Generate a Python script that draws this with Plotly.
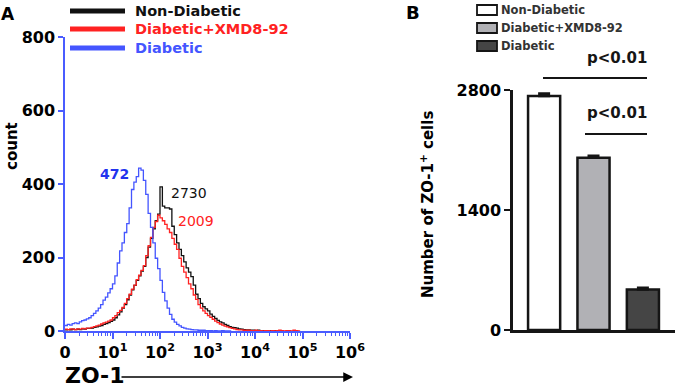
import numpy as np
import plotly.graph_objects as go

W, H = 678, 390

# ---------------- data ----------------
bin_step = 0.05  # histogram bin width in decades (biexponential display units)
tick_positions = [0, 1, 2, 3, 4, 5, 6]
tick_labels = ["0"] + ["10<sup>%d</sup>" % d for d in range(1, 7)]

blue_counts = [15, 18, 16, 20, 22, 20, 25, 28, 30, 33, 36, 42, 48, 55, 62, 72, 84, 92, 104, 115,
               128, 150, 185, 218, 240, 268, 292, 335, 385, 405, 420, 443, 438, 410, 372, 320, 282,
               240, 198, 170, 138, 105, 82, 62, 45, 32, 24, 18, 14, 10, 8, 6, 5, 4, 3, 3, 2, 2, 2,
               1, 1, 1, 0, 1, 0, 0, 1, 0, 0, 0, 0]
red_counts = [5, 4, 6, 5, 4, 6, 5, 7, 6, 8, 8, 10, 12, 14, 16, 19, 22, 24, 27, 30,
              36, 42, 50, 56, 64, 75, 88, 100, 114, 125, 140, 152, 165, 178, 205, 232, 255, 282,
              298, 315, 308, 300, 290, 278, 268, 252, 236, 222, 198, 176, 160, 145, 128, 115, 98,
              86, 72, 62, 55, 48, 42, 37, 32, 27, 23, 19, 16, 13, 11, 9, 7, 6, 4, 3, 3, 2, 2,
              2, 1, 1, 2, 1, 1, 0, 1, 1, 0, 1, 0, 1, 2, 1, 0, 1, 1, 0, 2, 1, 0, 0]
black_counts = [3, 4, 3, 5, 4, 5, 4, 6, 5, 7, 7, 8, 10, 11, 13, 15, 18, 20, 23, 26,
                30, 36, 44, 52, 62, 72, 85, 98, 112, 124, 138, 150, 163, 176, 200, 228, 252, 278,
                300, 318, 392, 340, 335, 335, 332, 285, 262, 240, 222, 205, 188, 172, 160, 148,
                125, 100, 88, 75, 66, 60, 55, 46, 40, 34, 29, 25, 22, 18, 15, 12, 10, 9, 8, 6, 5,
                4, 3, 3, 2, 2, 1, 2, 1, 1, 0, 1, 1, 0, 1, 0, 0]

groups = ["Non-Diabetic", "Diabetic+XMD8-92", "Diabetic"]
mfi_values = [2730, 2009, 472]
mfi_errors = [30, 25, 22]
bar_colors = ["#ffffff", "#b1b1b5", "#454545"]
line_colors = {"Non-Diabetic": "#111111", "Diabetic+XMD8-92": "#ff2222", "Diabetic": "#4455ff"}

# ---------------- figure ----------------
def px_x(p):
    return p / W

def px_y(p):
    return 1 - p / H

FONT = "DejaVu Sans, Liberation Sans, Arial, sans-serif"
fig = go.Figure()

for name, counts in [("Non-Diabetic", black_counts), ("Diabetic+XMD8-92", red_counts),
                     ("Diabetic", blue_counts)]:
    xs = [i * bin_step for i in range(len(counts))]
    fig.add_trace(go.Scatter(x=xs, y=counts, mode="lines", line_shape="hv",
                             line=dict(color=line_colors[name], width=1.3),
                             showlegend=False, xaxis="x", yaxis="y", cliponaxis=False))

fig.add_trace(go.Bar(x=[0, 1, 2], y=mfi_values, width=0.65,
                     marker=dict(color=bar_colors, line=dict(color="#151515", width=2.5)),
                     error_y=dict(type="data", array=mfi_errors, arrayminus=[0, 0, 0],
                                  symmetric=False, color="#151515", thickness=2.5, width=6),
                     showlegend=False, xaxis="x2", yaxis="y2"))

minor_vals = [d + np.log10(k) for d in range(0, 6) for k in range(2, 10)]
axis_blue = "#4a5cff"

fig.update_layout(
    width=W, height=H, margin=dict(l=0, r=0, t=0, b=0, autoexpand=False),
    paper_bgcolor="white", plot_bgcolor="white",
    font=dict(family=FONT, color="black"),
    xaxis=dict(domain=[px_x(65), px_x(350)], range=[0, 6], anchor="y",
               tickmode="array", tickvals=tick_positions, ticktext=tick_labels,
               tickfont=dict(size=16, weight="bold", color="black"),
               showline=True, linecolor=axis_blue, linewidth=1.5,
               ticks="outside", tickcolor=axis_blue, ticklen=6, tickwidth=1.5,
               minor=dict(tickmode="array", tickvals=minor_vals, ticks="outside",
                          ticklen=3, tickcolor=axis_blue, tickwidth=1),
               showgrid=False, zeroline=False, automargin=False),
    yaxis=dict(domain=[px_y(331), px_y(37)], range=[0, 800], anchor="x",
               tickvals=[0, 200, 400, 600, 800],
               tickfont=dict(size=16, weight="bold", color="black"),
               showline=True, linecolor=axis_blue, linewidth=1.5,
               ticks="outside", tickcolor=axis_blue, ticklen=5, tickwidth=1.5,
               showgrid=False, zeroline=False, automargin=False),
    xaxis2=dict(domain=[px_x(513), px_x(675)], range=[-0.63, 2.65], anchor="y2",
                showticklabels=False, ticks="", showline=True, linecolor="#151515",
                linewidth=2.5, showgrid=False, zeroline=False, automargin=False),
    yaxis2=dict(domain=[px_y(330), px_y(90)], range=[0, 2800], anchor="x2",
                tickvals=[0, 1400, 2800],
                tickfont=dict(size=16, weight="bold", color="black"),
                showline=True, linecolor="#151515", linewidth=2.5,
                ticks="outside", tickcolor="#151515", ticklen=6, tickwidth=2,
                showgrid=False, zeroline=False, automargin=False),
)

ann = []
shapes = []

def text_at(txt, x, y, size, color="black", xanchor="center", angle=0):
    ann.append(dict(text=txt, x=px_x(x), y=px_y(y), xref="paper", yref="paper",
                    xanchor=xanchor, yanchor="middle", showarrow=False, textangle=angle,
                    font=dict(size=size, color=color)))

# Panel labels
text_at("<b>A</b>", 8, 14, 17)
text_at("<b>B</b>", 413, 13, 18)

# y title left
text_at("<b>count</b>", 12, 146, 15, angle=-90)
# x title left with arrow
text_at("<b>ZO-1</b>", 63, 375, 22, xanchor="left")
ann.append(dict(text="", x=px_x(353), y=px_y(377), ax=-(353 - 120), ay=0,
                xref="paper", yref="paper", axref="pixel", ayref="pixel",
                showarrow=True, arrowhead=2, arrowsize=1.3, arrowwidth=1.5,
                arrowcolor="black"))

# MFI labels on histogram
for txt, xv, yv, col, bold in [("472", 1.05, 427, "#2233ee", True),
                               ("2730", 2.6, 375, "#111111", False),
                               ("2009", 2.75, 299, "#ff2222", False)]:
    ann.append(dict(text=("<b>%s</b>" % txt) if bold else txt, x=xv, y=yv, xref="x", yref="y",
                    xanchor="center", yanchor="middle",
                    showarrow=False, font=dict(size=14, color=col)))

# Legend A
for i, name in enumerate(groups):
    yy = [11, 29, 48][i]
    shapes.append(dict(type="line", xref="paper", yref="paper", x0=px_x(70), x1=px_x(125),
                       y0=px_y(yy), y1=px_y(yy), line=dict(color=line_colors[name], width=5)))
    text_at("<b>%s</b>" % name, 133, yy, 14.5,
            color=line_colors[name] if i else "#111111", xanchor="left")

# Legend B
for i, name in enumerate(groups):
    yy = [10, 28, 46][i]
    shapes.append(dict(type="rect", xref="paper", yref="paper", x0=px_x(477), x1=px_x(497),
                       y0=px_y(yy - 5), y1=px_y(yy + 5), fillcolor=bar_colors[i],
                       line=dict(color="#151515", width=1.8)))
    text_at("<b>%s</b>" % name, 499, yy, 11.5, color="#333333", xanchor="left")

# Significance
for x0, x1, yl, yt in [(543, 647, 78, 58), (585, 647, 134, 113)]:
    shapes.append(dict(type="line", xref="paper", yref="paper", x0=px_x(x0), x1=px_x(x1),
                       y0=px_y(yl), y1=px_y(yl), line=dict(color="#151515", width=2)))
    text_at("<b>p<0.01</b>", 617, yt, 15, color="#151515")

# y title right
text_at("<b>Number of ZO-1<sup>+</sup> cells</b>", 427, 205, 15, angle=-90)

fig.update_layout(annotations=ann, shapes=shapes)
fig.write_html("out.html", config={"displayModeBar": False},
               post_script="document.body.style.margin='0';"
                           "document.body.style.overflow='hidden';")
